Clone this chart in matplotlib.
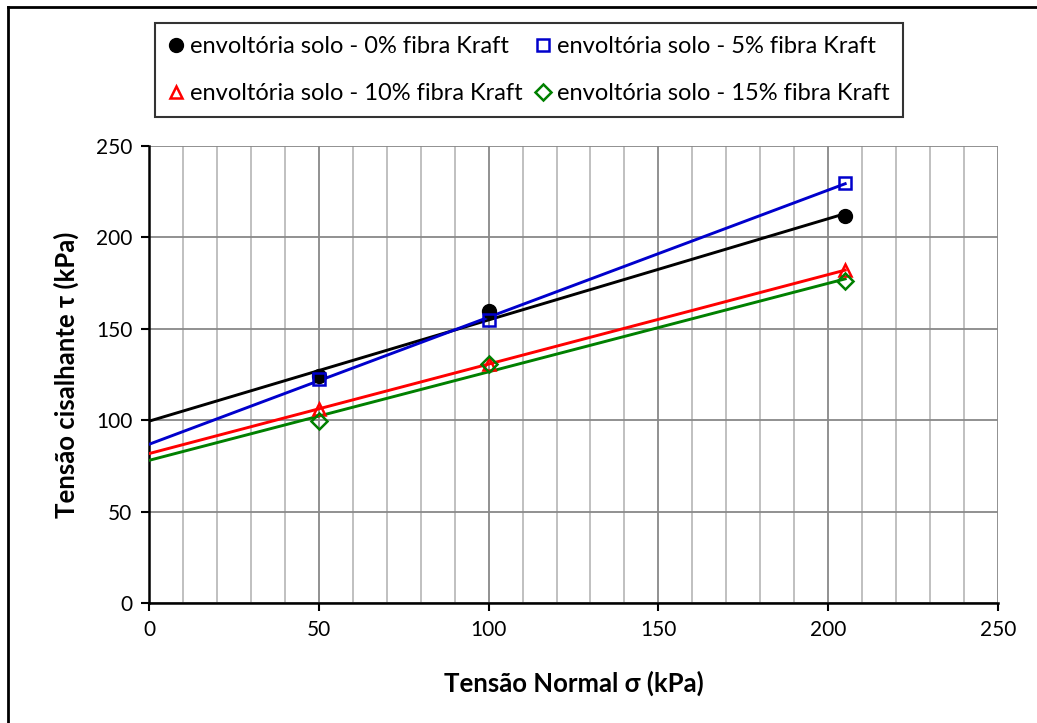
import numpy as np
import matplotlib
matplotlib.use('Agg')
import matplotlib.pyplot as plt
from matplotlib.lines import Line2D

plt.rcParams['font.family'] = ['Lato', 'DejaVu Sans']

# normal stress applied in each shear test (kPa)
sigma = [50, 100, 205]

# peak shear stress per fibre content (kPa)
tau_0 = [124.0, 159.5, 211.5]
tau_5 = [122.5, 155.0, 229.8]
tau_10 = [106.0, 131.0, 182.0]
tau_15 = [99.5, 130.5, 176.0]

labels = ['envoltória solo - 0% fibra Kraft', 'envoltória solo - 5% fibra Kraft',
          'envoltória solo - 10% fibra Kraft', 'envoltória solo - 15% fibra Kraft']
colors = ['black', '#0000cc', 'red', 'green']
markers = ['o', 's', '^', 'D']
series = [tau_0, tau_5, tau_10, tau_15]

W, H = 1037, 723
fig = plt.figure(figsize=(W/100, H/100), dpi=100)
ax = fig.add_axes([149/W, 1 - 603/H, (998-149)/W, (603-146)/H])

xs = np.array([0, sigma[-1]])
handles = []
for tau, c, m, lab in zip(series, colors, markers, labels):
    # linear failure envelope fitted to the three points
    a, b = np.polyfit(sigma, tau, 1)
    ax.plot(xs, a*xs + b, color=c, lw=2.1, zorder=3)
    if m == 'o':
        h = ax.plot(sigma, tau, m, color=c, ms=10, zorder=4, label=lab)[0]
    else:
        ms = 9 if m != 'D' else 8
        h = ax.plot(sigma, tau, m, mfc='none', mec=c, mew=1.8, ms=ms, zorder=4, label=lab)[0]
    handles.append(h)

ax.set_xlim(0, 250)
ax.set_ylim(0, 250)
ax.set_xticks(np.arange(0, 251, 50))
ax.set_yticks(np.arange(0, 251, 50))
ax.set_xticks(np.arange(0, 251, 10), minor=True)
ax.grid(which='major', axis='both', color='#888888', lw=1.3, zorder=1)
ax.grid(which='minor', axis='x', color='#bbbbbb', lw=1.3, zorder=1)
ax.tick_params(which='minor', length=0)
ax.tick_params(which='major', length=6, width=1.5, labelsize=15, direction='out', pad=6)
for s in ['top', 'right']:
    ax.spines[s].set_visible(False)
for s in ['left', 'bottom']:
    ax.spines[s].set_linewidth(1.8)

ax.set_xlabel('Tensão Normal σ (kPa)', fontsize=18.5, fontweight='bold', labelpad=22)
ax.set_ylabel('Tensão cisalhante τ (kPa)', fontsize=18.5, fontweight='bold', labelpad=12)

# legend filled row by row: 0%, 5% / 10%, 15%
order = [0, 2, 1, 3]
leg = fig.legend(handles=[handles[i] for i in order], labels=[labels[i] for i in order],
                 loc='upper left', bbox_to_anchor=(155/W, 1 - 23/H),
                 ncol=2, fontsize=17, frameon=True, fancybox=False, edgecolor='black',
                 handlelength=0.7, handletextpad=0.25, columnspacing=0.5,
                 labelspacing=1.12, borderpad=0.55, borderaxespad=0)
leg.get_frame().set_linewidth(1.5)

# outer frame (left and top edges)
fig.add_artist(Line2D([8/W, 8/W], [0, 1 - 7/H], transform=fig.transFigure, color='black', lw=2))
fig.add_artist(Line2D([8/W, 1], [1 - 7/H, 1 - 7/H], transform=fig.transFigure, color='black', lw=2))

fig.savefig('out.png', dpi=100)
